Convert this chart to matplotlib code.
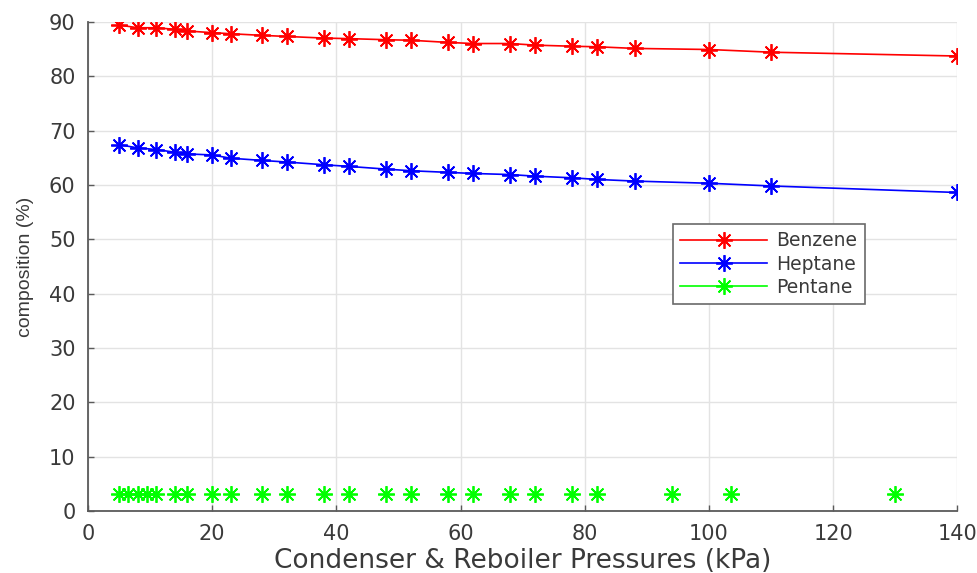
import matplotlib.pyplot as plt
from matplotlib.lines import Line2D

# pressures (kPa) and compositions (%)
pressure = [5, 8, 11, 14, 16, 20, 23, 28, 32, 38, 42, 48, 52, 58, 62, 68, 72, 78, 82, 88, 100, 110, 140]
benzene = [89.4, 88.9, 88.9, 88.6, 88.3, 88.0, 87.8, 87.5, 87.3, 87.0, 86.9, 86.7, 86.6,
           86.2, 86.0, 86.0, 85.7, 85.5, 85.4, 85.1, 84.9, 84.4, 83.7]
heptane = [67.4, 66.8, 66.5, 66.0, 65.7, 65.5, 64.9, 64.5, 64.2, 63.7, 63.4, 62.9, 62.6,
           62.3, 62.1, 61.9, 61.6, 61.3, 61.0, 60.7, 60.3, 59.8, 58.6]
pentane_p = [5, 6.5, 8, 9.5, 11, 14, 16, 20, 23, 28, 32, 38, 42, 48, 52, 58, 62, 68, 72, 78, 82, 94, 103.5, 130]
pentane = [3.1] * len(pentane_p)

star = (8, 2, 0)
txt = '#3a3a3a'
mk = dict(marker=star, ms=12, mew=1.3)

fig = plt.figure(figsize=(9.78, 5.73), dpi=100)
ax = fig.add_axes([0.090, 0.108, 0.889, 0.854])

ax.plot(pressure, benzene, color='red', lw=1.2, **mk)
ax.plot(pressure, heptane, color='blue', lw=1.2, **mk)
ax.plot(pentane_p, pentane, color='#00ff00', ls='none', **mk)

ax.set_xlim(0, 140)
ax.set_ylim(0, 90)
ax.set_xticks(range(0, 141, 20))
ax.set_yticks(range(0, 91, 10))
ax.grid(True, color='#e3e3e3', lw=1.0)
ax.set_axisbelow(True)

for s in ['top', 'right']:
    ax.spines[s].set_visible(False)
for s in ['left', 'bottom']:
    ax.spines[s].set_color('#5a5a5a')
    ax.spines[s].set_linewidth(1.3)
ax.tick_params(direction='in', length=4, width=1, color='#5a5a5a',
               labelsize=15, labelcolor=txt, pad=9)
for lab in ax.get_xticklabels() + ax.get_yticklabels():
    lab.set_family('DejaVu Sans')

ax.set_xlabel('Condenser & Reboiler Pressures (kPa)', fontsize=19, color=txt,
              family='DejaVu Sans', labelpad=3)
ax.set_ylabel('composition (%)', fontsize=14, color=txt,
              family='Liberation Sans', labelpad=11)

handles = [
    Line2D([], [], color='red', lw=1.2, **mk),
    Line2D([], [], color='blue', lw=1.2, **mk),
    Line2D([], [], color='#00ff00', lw=1.2, **mk),
]
leg = ax.legend(handles, ['Benzene', 'Heptane', 'Pentane'], loc='upper left',
                bbox_to_anchor=(0.662, 0.606), fancybox=False, framealpha=1,
                edgecolor='#6a6a6a', prop={'family': 'DejaVu Sans', 'size': 13.5},
                handlelength=4.6, labelspacing=0.22, borderpad=0.4, handletextpad=0.5)
leg.get_frame().set_linewidth(1.2)
for t in leg.get_texts():
    t.set_color(txt)

fig.savefig('out.png', dpi=100)
